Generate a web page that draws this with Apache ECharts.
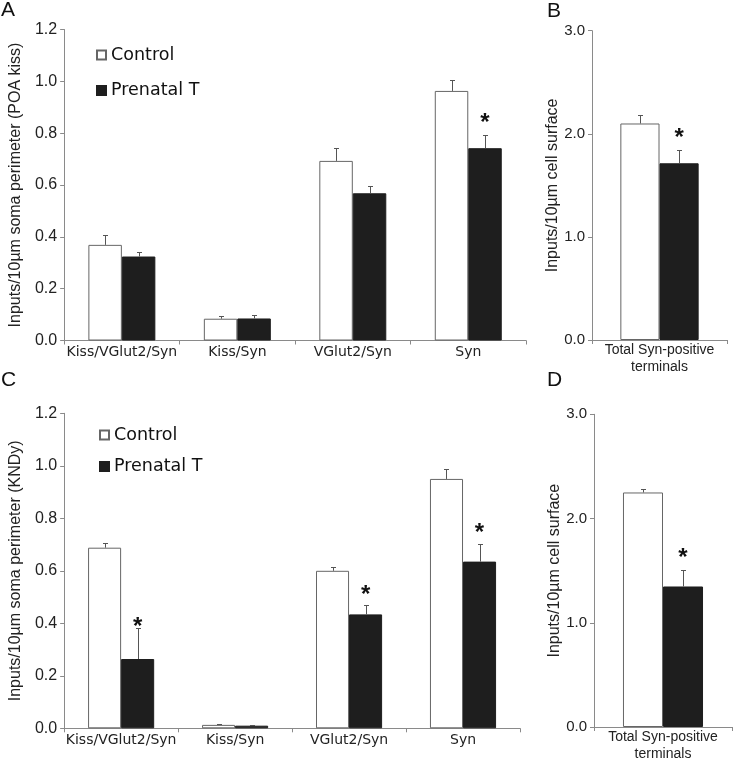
<!DOCTYPE html>
<html>
<head>
<meta charset="utf-8">
<script src="https://cdn.jsdelivr.net/npm/echarts@6/dist/echarts.min.js"></script>
<style>html,body{margin:0;padding:0;background:#fff;}#c{width:733px;height:763px;}</style>
</head>
<body>
<div id="c"></div>
<script>
// ---- Data ----
const categoriesAC = ['Kiss/VGlut2/Syn', 'Kiss/Syn', 'VGlut2/Syn', 'Syn'];
const categoriesBD = ['Total Syn-positive\nterminals'];
const seriesNames = ['Control', 'Prenatal T'];

// Panel A (POA kiss)
const controlA = [0.369, 0.084, 0.693, 0.963];
const controlErrA = [0.037, 0.012, 0.051, 0.042];
const prenatalA = [0.324, 0.085, 0.568, 0.742];
const prenatalErrA = [0.017, 0.013, 0.027, 0.049];
const starsA = [null, null, null, 0.86];

// Panel B
const controlB = [2.10];
const controlErrB = [0.08];
const prenatalB = [1.714];
const prenatalErrB = [0.132];
const starsB = [2.01];

// Panel C (KNDy)
const controlC = [0.688, 0.013, 0.600, 0.950];
const controlErrC = [0.017, 0.002, 0.013, 0.039];
const prenatalC = [0.264, 0.010, 0.434, 0.635];
const prenatalErrC = [0.117, 0.002, 0.035, 0.066];
const starsC = [0.406, null, 0.530, 0.764];

// Panel D
const controlD = [2.25];
const controlErrD = [0.03];
const prenatalD = [1.348];
const prenatalErrD = [0.162];
const starsD = [1.68];

const yTicksAC = [0.0, 0.2, 0.4, 0.6, 0.8, 1.0, 1.2];
const yTicksBD = [0.0, 1.0, 2.0, 3.0];

// ---- Styles ----
const GAP = 0.42;
const AXIS_COLOR = '#8a8a8a';
const TEXT_COLOR = '#222';
const ERR_COLOR = '#555';
const ARIAL = 'Liberation Sans';

function errRender(side) {
  return function (params, api) {
    const ci = api.value(0), v = api.value(1), e = api.value(2);
    const base = api.coord([ci, v]);
    const top = api.coord([ci, v + e]);
    const band = api.size([1, 0])[0];
    const bw = band * (1 - GAP) / 2;
    const x = Math.round(base[0] + side * bw / 2) + 0.5;
    const yt = Math.round(top[1]) + 0.5;
    return {
      type: 'group',
      children: [
        { type: 'line', shape: { x1: x, y1: base[1], x2: x, y2: yt }, style: { stroke: ERR_COLOR, lineWidth: 1 } },
        { type: 'line', shape: { x1: x - 2.5, y1: yt, x2: x + 2.5, y2: yt }, style: { stroke: ERR_COLOR, lineWidth: 1 } }
      ]
    };
  };
}

function starRender(params, api) {
  const ci = api.value(0), s = api.value(1);
  const p = api.coord([ci, s]);
  const band = api.size([1, 0])[0];
  const bw = band * (1 - GAP) / 2;
  return {
    type: 'text',
    style: {
      text: '*', x: p[0] + bw / 2, y: p[1] + 6,
      textAlign: 'center', textVerticalAlign: 'middle',
      font: 'bold 24px "Liberation Sans"', fill: '#111'
    }
  };
}

function panelSeries(gi, ctrl, ctrlErr, pre, preErr, stars) {
  return [
    {
      name: seriesNames[0], type: 'bar', xAxisIndex: gi, yAxisIndex: gi,
      data: ctrl, barGap: '0%', barCategoryGap: (GAP * 100) + '%',
      itemStyle: { color: '#ffffff', borderColor: '#666', borderWidth: 1 }
    },
    {
      name: seriesNames[1], type: 'bar', xAxisIndex: gi, yAxisIndex: gi,
      data: pre, barGap: '0%', barCategoryGap: (GAP * 100) + '%',
      itemStyle: { color: '#1e1e1e', borderColor: '#1e1e1e', borderWidth: 1 }
    },
    {
      type: 'custom', xAxisIndex: gi, yAxisIndex: gi, z: 5, silent: true,
      renderItem: errRender(-1), encode: { x: 0, y: 1 },
      data: ctrl.map((v, i) => [i, v, ctrlErr[i]])
    },
    {
      type: 'custom', xAxisIndex: gi, yAxisIndex: gi, z: 5, silent: true,
      renderItem: errRender(1), encode: { x: 0, y: 1 },
      data: pre.map((v, i) => [i, v, preErr[i]])
    },
    {
      type: 'custom', xAxisIndex: gi, yAxisIndex: gi, z: 6, silent: true,
      renderItem: starRender, encode: { x: 0, y: 1 },
      data: stars.map((s, i) => [i, s]).filter(d => d[1] != null)
    }
  ];
}

function xAxisDef(gi, cats, isSingle) {
  return {
    type: 'category', gridIndex: gi, data: cats,
    axisLine: { lineStyle: { color: AXIS_COLOR, width: 1 } },
    axisTick: { show: true, length: 4, lineStyle: { color: AXIS_COLOR } },
    axisLabel: isSingle
      ? { color: TEXT_COLOR, fontFamily: ARIAL, fontSize: 14, lineHeight: 17, margin: 2 }
      : { color: TEXT_COLOR, fontFamily: 'DejaVu Sans', fontSize: 14, margin: 5, interval: 0 }
  };
}

function yAxisDef(gi, ticks, interval, name, nameGap, fontSize) {
  return {
    type: 'value', gridIndex: gi, min: ticks[0], max: ticks[ticks.length - 1], interval: interval,
    name: name, nameLocation: 'middle', nameGap: nameGap,
    nameTextStyle: { color: TEXT_COLOR, fontFamily: ARIAL, fontSize: 16 },
    axisLine: { show: true, lineStyle: { color: AXIS_COLOR, width: 1 } },
    axisTick: { show: true, length: 4, lineStyle: { color: AXIS_COLOR } },
    splitLine: { show: false },
    axisLabel: { color: TEXT_COLOR, fontFamily: ARIAL, fontSize: fontSize, margin: 7,
      formatter: v => v.toFixed(1) }
  };
}

const chart = echarts.init(document.getElementById('c'), null, { renderer: 'canvas' });

const option = {
  animation: false,
  backgroundColor: '#ffffff',
  grid: [
    { left: 53, top: 29.5, width: 473, height: 311 },
    { left: 592, top: 30.7, width: 135, height: 309.3 },
    { left: 53, top: 413.3, width: 467, height: 315 },
    { left: 594, top: 414.3, width: 138, height: 313.7 }
  ],
  xAxis: [
    xAxisDef(0, categoriesAC, false),
    xAxisDef(1, categoriesBD, true),
    xAxisDef(2, categoriesAC, false),
    xAxisDef(3, categoriesBD, true)
  ],
  yAxis: [
    yAxisDef(0, yTicksAC, 0.2, 'Inputs/10\u00b5m soma perimeter (POA kiss)', 36, 16),
    yAxisDef(1, yTicksBD, 1, 'Inputs/10\u00b5m cell surface', 30, 15),
    yAxisDef(2, yTicksAC, 0.2, 'Inputs/10\u00b5m soma perimeter (KNDy)', 36, 16),
    yAxisDef(3, yTicksBD, 1, 'Inputs/10\u00b5m cell surface', 31, 15)
  ],
  legend: [
    { data: seriesNames, orient: 'vertical', left: 91, top: 41, icon: 'rect', itemWidth: 9, itemHeight: 9, itemGap: 17.5,
      selectedMode: false, textStyle: { fontFamily: 'DejaVu Sans', fontSize: 17.5, color: '#111' } },
    { data: seriesNames, orient: 'vertical', left: 94, top: 421, icon: 'rect', itemWidth: 9, itemHeight: 9, itemGap: 13.5,
      selectedMode: false, textStyle: { fontFamily: 'DejaVu Sans', fontSize: 17.5, color: '#111' } }
  ],
  graphic: [
    { type: 'text', left: 1, top: 0, style: { text: 'A', font: '21px "Liberation Sans"', fill: '#111' } },
    { type: 'text', left: 547, top: 1, style: { text: 'B', font: '21px "Liberation Sans"', fill: '#111' } },
    { type: 'text', left: 1, top: 370, style: { text: 'C', font: '21px "Liberation Sans"', fill: '#111' } },
    { type: 'text', left: 547, top: 370, style: { text: 'D', font: '21px "Liberation Sans"', fill: '#111' } }
  ],
  series: [].concat(
    panelSeries(0, controlA, controlErrA, prenatalA, prenatalErrA, starsA),
    panelSeries(1, controlB, controlErrB, prenatalB, prenatalErrB, starsB),
    panelSeries(2, controlC, controlErrC, prenatalC, prenatalErrC, starsC),
    panelSeries(3, controlD, controlErrD, prenatalD, prenatalErrD, starsD)
  )
};

chart.setOption(option);
</script>
</body>
</html>
